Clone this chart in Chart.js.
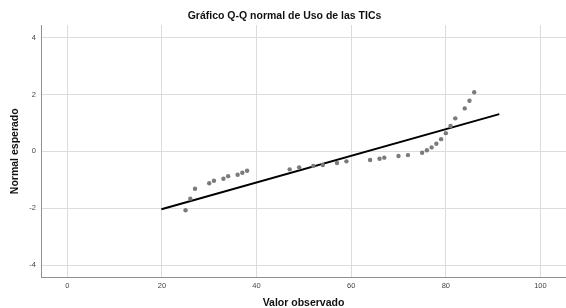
<!DOCTYPE html>
<html lang="es">
<head>
<meta charset="utf-8">
<title>Gráfico Q-Q normal de Uso de las TICs</title>
<script src="https://cdn.jsdelivr.net/npm/chart.js@4/dist/chart.umd.min.js"></script>
<style>
  html, body { margin:0; padding:0; background:#fff; overflow:hidden; }
  #wrap { width:570px; height:308px; }
</style>
</head>
<body>
<div id="wrap"><canvas id="qq" width="570" height="308"></canvas></div>
<script>
/* ── Q-Q normal plot ─────────────────────────────────────────
   valores observados vs. normal esperado + recta de referencia
──────────────────────────────────────────────────────────── */
const OBS_X = [25,26,27,30,31,33,34,36,37,38,47,49,52,54,57,59,
               64,66,67,70,72,75,76,77,78,79,80,81,82,84,85,86];
const EXP_Y = [-2.07,-1.66,-1.31,-1.12,-1.03,-0.96,-0.87,-0.82,-0.75,-0.68,-0.63,-0.56,-0.51,-0.48,-0.41,-0.35,
               -0.30,-0.26,-0.22,-0.16,-0.13,-0.05,0.04,0.14,0.27,0.43,0.64,0.89,1.16,1.51,1.78,2.08];
const LINE_X = [19.9, 91.3];
const LINE_Y = [-2.03, 1.31];
const X_TICKS = [0, 20, 40, 60, 80, 100];
const Y_TICKS = [-4, -2, 0, 2, 4];

const FONT = "'Liberation Sans', Arial, sans-serif";
const GRID = "#dcdcdc";

const points = OBS_X.map((x, i) => ({ x, y: EXP_Y[i] }));
const line   = LINE_X.map((x, i) => ({ x, y: LINE_Y[i] }));

new Chart(document.getElementById("qq"), {
  type: "scatter",
  data: {
    datasets: [
      {
        label: "Observado",
        data: points,
        backgroundColor: "#7b7b7b",
        borderColor: "#7b7b7b",
        pointRadius: 2.2,
        pointBorderWidth: 0,
        order: 1,
      },
      {
        label: "Recta",
        data: line,
        showLine: true,
        borderColor: "#000",
        borderWidth: 2,
        pointRadius: 0,
        order: 2,
      },
    ],
  },
  options: {
    responsive: false,
    animation: false,
    layout: { padding: { left:0, right:1, top:0, bottom:0 } },
    plugins: {
      legend: { display:false },
      tooltip: { enabled:false },
      title: {
        display: true,
        text: "Gráfico Q-Q normal de Uso de las TICs",
        color: "#111",
        font: { family:FONT, size:10.5, weight:"bold", lineHeight:1.2 },
        padding: { top:10, bottom:2.4 },
      },
    },
    scales: {
      x: {
        type: "linear",
        min: -5.55, max: 105.4,
        afterBuildTicks: s => { s.ticks = X_TICKS.map(v => ({ value:v })); },
        afterFit: s => { s.height = 30.5; },
        grid: { color:GRID, lineWidth:1, drawTicks:false },
        border: { color:"#8f8f8f", width:1 },
        ticks: { font:{ family:FONT, size:7.5 }, color:"#444", padding:4, maxRotation:0 },
        title: {
          display: true, text: "Valor observado", color:"#111",
          font: { family:FONT, size:10.5, weight:"bold", lineHeight:1 },
          padding: { top:0, bottom:0 },
        },
      },
      y: {
        type: "linear",
        min: -4.43, max: 4.44,
        afterBuildTicks: s => { s.ticks = Y_TICKS.map(v => ({ value:v })); },
        afterFit: s => { s.width = 41; },
        grid: { color:GRID, lineWidth:1, drawTicks:false },
        border: { color:"#8f8f8f", width:1 },
        ticks: { font:{ family:FONT, size:7.5 }, color:"#444", padding:5 },
        title: {
          display: true, text: "Normal esperado", color:"#111",
          font: { family:FONT, size:10.5, weight:"bold", lineHeight:1.2 },
          padding: { top:9, bottom:0 },
        },
      },
    },
  },
});
</script>
</body>
</html>
